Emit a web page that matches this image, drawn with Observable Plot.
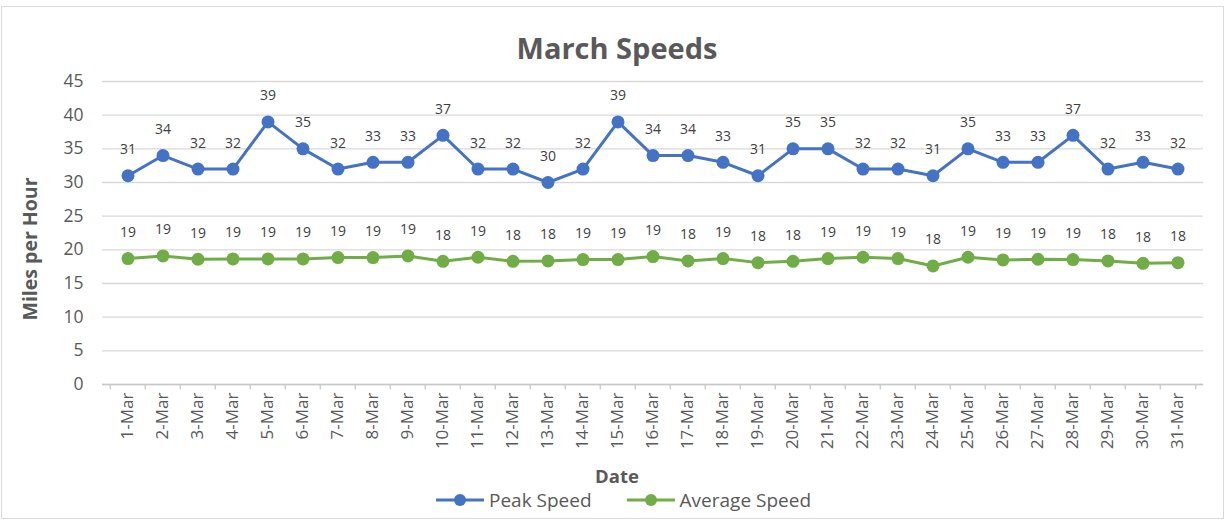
<!DOCTYPE html>
<html>
<head>
<meta charset="utf-8">
<script src="https://cdn.jsdelivr.net/npm/d3@7"></script>
<script src="https://cdn.jsdelivr.net/npm/@observablehq/plot@0.6"></script>
<style>
  html, body { margin: 0; padding: 0; background: #fff; }
  #wrap { position: relative; width: 1226px; height: 520px; overflow: hidden; font-family: "Open Sans", sans-serif; }
  #frame { position: absolute; left: 1px; top: 6px; width: 1221px; height: 511px; border: 1px solid #d9d9d9; }
  #title { position: absolute; left: 0; width: 1234px; top: 28px; text-align: center; font-size: 29px; font-weight: bold; color: #595959; line-height: 40px; }
  #chart { position: absolute; left: 0; top: 60px; }
  #ylabel { position: absolute; left: 29px; top: 249px; transform: translate(-50%, -50%) rotate(-90deg); font-size: 19.5px; font-weight: bold; color: #595959; white-space: nowrap; }
  #xlabel { position: absolute; left: 617px; top: 475px; transform: translate(-50%, -50%); font-size: 18.5px; font-weight: bold; color: #595959; }
  #legend { position: absolute; left: 10px; width: 1226px; top: 487px; display: flex; justify-content: center; gap: 34px; font-size: 19px; color: #595959; line-height: 26px; }
  .item { display: flex; align-items: center; gap: 4px; }
</style>
</head>
<body>
<div id="wrap">
  <div id="frame"></div>
  <div id="title">March Speeds</div>
  <div id="chart"></div>
  <div id="ylabel">Miles per Hour</div>
  <div id="xlabel">Date</div>
  <div id="legend"></div>
</div>
<script>
const dates = ["1-Mar","2-Mar","3-Mar","4-Mar","5-Mar","6-Mar","7-Mar","8-Mar","9-Mar","10-Mar",
  "11-Mar","12-Mar","13-Mar","14-Mar","15-Mar","16-Mar","17-Mar","18-Mar","19-Mar","20-Mar",
  "21-Mar","22-Mar","23-Mar","24-Mar","25-Mar","26-Mar","27-Mar","28-Mar","29-Mar","30-Mar","31-Mar"];
const peakSpeed = [31,34,32,32,39,35,32,33,33,37,32,32,30,32,39,34,34,33,31,35,35,32,32,31,35,33,33,37,32,33,32];
const averageSpeed = [18.7,19.1,18.6,18.65,18.65,18.65,18.85,18.85,19.1,18.3,18.9,18.3,18.35,18.55,18.55,19.0,18.35,18.7,18.1,18.3,18.7,18.9,18.7,17.6,18.9,18.5,18.6,18.55,18.35,18.0,18.1];
const yTicks = [0,5,10,15,20,25,30,35,40,45];
const seriesNames = ["Peak Speed", "Average Speed"];
const seriesColors = ["#4472C4", "#70AD47"];

const rows = dates.map((d, i) => ({date: d, peak: peakSpeed[i], avg: averageSpeed[i]}));

const W = 1226, ML = 102, MR = 23;
const bw = (W - ML - MR) / dates.length;

const chart = Plot.plot({
  width: W,
  height: 430,
  marginLeft: ML,
  marginRight: MR,
  marginTop: 21,
  marginBottom: 106,
  style: { fontFamily: "'Open Sans', sans-serif", background: "transparent", overflow: "visible" },
  x: { type: "band", domain: dates, padding: 0, label: null },
  y: { domain: [0, 45], label: null },
  marks: [
    Plot.gridY(yTicks, { stroke: "#d9d9d9", strokeOpacity: 1, strokeWidth: 1.3 }),
    Plot.ruleY([0], { stroke: "#c8c8c8", strokeWidth: 1.3 }),
    Plot.ruleX(dates, { x: d => d, y1: 0, y2: -0.8, dx: -bw / 2, stroke: "#c8c8c8", strokeWidth: 1.3 }),
    Plot.ruleX([dates[dates.length - 1]], { x: d => d, y1: 0, y2: -0.8, dx: bw / 2, stroke: "#c8c8c8", strokeWidth: 1.3 }),
    Plot.axisY(yTicks, { tickSize: 0, tickPadding: 19, fontSize: 17.5, fill: "#595959", label: null }),
    Plot.axisX({ tickSize: 0, tickRotate: -90, tickPadding: 8, fontSize: 17, fill: "#595959", label: null }),
    Plot.line(rows, { x: "date", y: "peak", stroke: seriesColors[0], strokeWidth: 3 }),
    Plot.dot(rows, { x: "date", y: "peak", r: 6.5, fill: seriesColors[0] }),
    Plot.text(rows, { x: "date", y: "peak", text: d => String(Math.round(d.peak)), dy: -26, fontSize: 14, fill: "#404040" }),
    Plot.line(rows, { x: "date", y: "avg", stroke: seriesColors[1], strokeWidth: 3 }),
    Plot.dot(rows, { x: "date", y: "avg", r: 6.5, fill: seriesColors[1] }),
    Plot.text(rows, { x: "date", y: "avg", text: d => String(Math.round(d.avg)), dy: -26, fontSize: 14, fill: "#404040" })
  ]
});
document.getElementById("chart").appendChild(chart);

const legend = document.getElementById("legend");
seriesNames.forEach((name, i) => {
  const item = document.createElement("div");
  item.className = "item";
  item.innerHTML = `<svg width="50" height="14"><line x1="1" x2="49" y1="7" y2="7" stroke="${seriesColors[i]}" stroke-width="3"/><circle cx="25" cy="7" r="6" fill="${seriesColors[i]}"/></svg><span>${name}</span>`;
  legend.appendChild(item);
});
</script>
</body>
</html>
